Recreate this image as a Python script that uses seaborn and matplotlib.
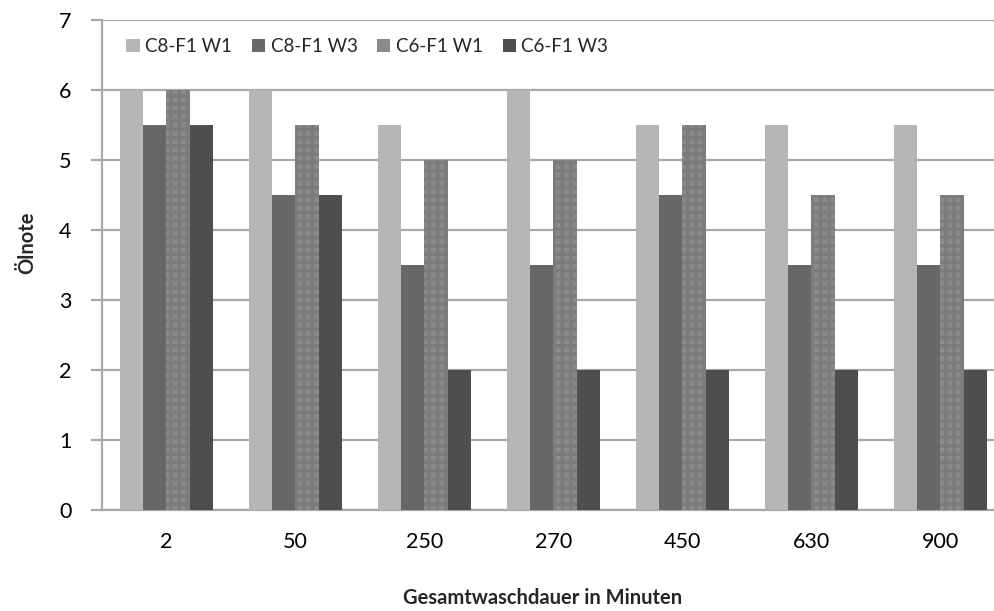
import matplotlib
matplotlib.use("Agg")
import matplotlib.pyplot as plt
import seaborn as sns
import pandas as pd
import numpy as np

# Wash duration categories (minutes) and oil grades per series
durations = ["2", "50", "250", "270", "450", "630", "900"]
series_names = ["C8-F1 W1", "C8-F1 W3", "C6-F1 W1", "C6-F1 W3"]
c8_w1 = [6, 6, 5.5, 6, 5.5, 5.5, 5.5]
c8_w3 = [5.5, 4.5, 3.5, 3.5, 4.5, 3.5, 3.5]
c6_w1 = [6, 5.5, 5, 5, 5.5, 4.5, 4.5]
c6_w3 = [5.5, 4.5, 2, 2, 2, 2, 2]
y_ticks = [0, 1, 2, 3, 4, 5, 6, 7]

df = pd.DataFrame({
    "Gesamtwaschdauer": durations * 4,
    "Serie": sum([[s] * len(durations) for s in series_names], []),
    "Ölnote": c8_w1 + c8_w3 + c6_w1 + c6_w3,
})

sns.set_theme(style="white")
plt.rcParams["font.family"] = ["Lato", "DejaVu Sans"]
plt.rcParams["hatch.linewidth"] = 2.5

palette = ["#b6b6b6", "#676767", "#8a8a8a", "#4e4e4e"]
grid_c = "#a8a8a8"

fig = plt.figure(figsize=(9.95, 6.11), dpi=100)
ax = fig.add_axes([102 / 995, 1 - 510 / 611, (1005 - 102) / 995, (510 - 20) / 611])

sns.barplot(data=df, x="Gesamtwaschdauer", y="Ölnote", hue="Serie",
            order=durations, hue_order=series_names, palette=palette,
            width=0.72, saturation=1, ax=ax, zorder=3, linewidth=0)

# checkered texture on the C6-F1 W1 bars
for patch in ax.containers[2]:
    patch.set_hatch("++")
    patch.set_edgecolor("#7c7c7c")
    patch.set_linewidth(0)

ax.set_xlim(-0.5, len(durations) - 0.5)
ax.set_ylim(0, 7)
ax.set_yticks(y_ticks)
ax.yaxis.grid(True, color=grid_c, linewidth=1.6, zorder=0)
ax.set_axisbelow(True)
for s in ["top", "right"]:
    ax.spines[s].set_visible(False)
for s in ["left", "bottom"]:
    ax.spines[s].set_color(grid_c)
    ax.spines[s].set_linewidth(1.6)

ax.set_xticks(np.arange(len(durations)))
ax.set_xticklabels(durations)
ax.set_xticks(np.arange(len(durations) + 1) - 0.5, minor=True)
ax.tick_params(axis="x", which="major", length=0, pad=16, labelsize=15.5, colors="black")
ax.tick_params(axis="x", which="minor", length=8, width=1.6, color=grid_c, direction="out")
ax.tick_params(axis="y", length=8, width=1.6, color=grid_c, direction="out",
               pad=14, labelsize=15.5, labelcolor="black", left=True)

ax.set_xlabel("")
ax.set_ylabel("")
fig.text(543 / 995, 1 - 598 / 611, "Gesamtwaschdauer in Minuten",
         ha="center", va="center", fontsize=14.5, fontweight="bold")
fig.text(27 / 995, 1 - 243 / 611, "Ölnote", rotation=90,
         ha="center", va="center", fontsize=14.5, fontweight="bold")

leg = ax.legend(loc="center left", bbox_to_anchor=(0.027, 0.946), ncol=4, frameon=False,
                fontsize=13.5, handlelength=0.7, handleheight=0.7, handletextpad=0.3,
                columnspacing=1.05, borderaxespad=0, borderpad=0)
for h in leg.legend_handles:
    h.set_hatch(None)

fig.savefig("out.png", dpi=100)
